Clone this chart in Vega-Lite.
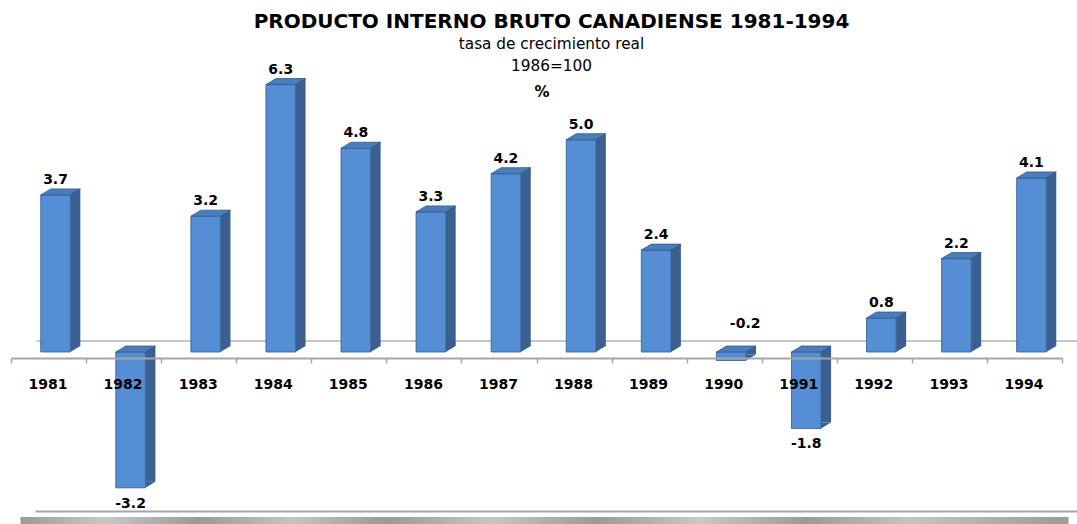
{
  "$schema": "https://vega.github.io/schema/vega-lite/v6.json",
  "width": 1051,
  "height": 358,
  "autosize": {"type": "none"},
  "padding": {"left": 11, "right": 15, "top": 0, "bottom": 166},
  "background": "white",
  "title": {
    "text": "PRODUCTO INTERNO BRUTO CANADIENSE 1981-1994",
    "subtitle": ["tasa de crecimiento real", "1986=100"],
    "font": "DejaVu Sans",
    "fontSize": 20,
    "fontWeight": "bold",
    "color": "#000000",
    "subtitleFont": "DejaVu Sans",
    "subtitleFontSize": 15.3,
    "subtitleColor": "#000000",
    "subtitleLineHeight": 22,
    "subtitlePadding": 5,
    "anchor": "middle",
    "frame": "group",
    "offset": -74,
    "dx": 15
  },
  "data": {
    "values": [
      {"year": "1981", "value": 3.7},
      {"year": "1982", "value": -3.2},
      {"year": "1983", "value": 3.2},
      {"year": "1984", "value": 6.3},
      {"year": "1985", "value": 4.8},
      {"year": "1986", "value": 3.3},
      {"year": "1987", "value": 4.2},
      {"year": "1988", "value": 5.0},
      {"year": "1989", "value": 2.4},
      {"year": "1990", "value": -0.2},
      {"year": "1991", "value": -1.8},
      {"year": "1992", "value": 0.8},
      {"year": "1993", "value": 2.2},
      {"year": "1994", "value": 4.1}
    ]
  },
  "layer": [
    {
      "data": {"values": [{"floor": "front"}]},
      "mark": {
        "type": "rect",
        "xOffset": -28,
        "x2Offset": 44,
        "fill": {
          "gradient": "linear",
          "x1": 0, "y1": 0, "x2": 1, "y2": 0,
          "stops": [
            {"offset": 0, "color": "#9A9A9A"},
            {"offset": 0.08, "color": "#C8C8C8"},
            {"offset": 0.17, "color": "#9A9A9A"},
            {"offset": 0.26, "color": "#C4C4C4"},
            {"offset": 0.35, "color": "#999999"},
            {"offset": 0.45, "color": "#C6C6C6"},
            {"offset": 0.55, "color": "#9A9A9A"},
            {"offset": 0.65, "color": "#C8C8C8"},
            {"offset": 0.75, "color": "#9A9A9A"},
            {"offset": 0.85, "color": "#C4C4C4"},
            {"offset": 1, "color": "#9A9A9A"}
          ]
        }
      },
      "encoding": {
        "x": {"datum": "1981", "type": "ordinal"},
        "x2": {"datum": "1994"},
        "y": {"datum": -3.887, "type": "quantitative", "scale": {"domain": [-0.14134, 8.29211], "nice": false, "zero": false}, "axis": null},
        "y2": {"datum": -4.3}
      }
    },
    {
      "data": {"values": [{"floor": "top"}]},
      "mark": {"type": "rule", "xOffset": -13, "x2Offset": 53, "stroke": "#A6A6A6", "strokeWidth": 2},
      "encoding": {
        "x": {"datum": "1981", "type": "ordinal"},
        "x2": {"datum": "1994"},
        "y": {"datum": -3.757, "type": "quantitative"}
      }
    },
    {
      "data": {"values": [{"wall": "back"}]},
      "mark": {"type": "rule", "yOffset": -11, "xOffset": -12, "x2Offset": 53, "stroke": "#B3B3B3", "strokeWidth": 1.5},
      "encoding": {
        "x": {"datum": "1981", "type": "ordinal"},
        "x2": {"datum": "1994"},
        "y": {"datum": 0, "type": "quantitative"}
      }
    },
    {
      "mark": {"type": "bar", "width": 10, "xOffset": 26.8, "yOffset": -6, "y2Offset": -6, "fill": "#3B5F90"},
      "encoding": {
        "x": {"field": "year", "type": "ordinal"},
        "y": {"field": "value", "type": "quantitative"},
        "y2": {"datum": 0}
      }
    },
    {
      "transform": [{"filter": "datum.value >= 0"}],
      "mark": {"type": "point", "shape": "M0.74,-0.3L1.24,-0.3L0.74,0Z", "size": 1600, "filled": true, "fill": "#3B5F90", "opacity": 1, "xOffset": 7},
      "encoding": {
        "x": {"field": "year", "type": "ordinal"},
        "y": {"datum": 0, "type": "quantitative"}
      }
    },
    {
      "transform": [{"filter": "datum.value < 0"}],
      "mark": {"type": "point", "shape": "M0.74,-0.3L1.24,-0.3L0.74,0Z", "size": 1600, "filled": true, "fill": "#3B5F90", "opacity": 1, "xOffset": 7},
      "encoding": {
        "x": {"field": "year", "type": "ordinal"},
        "y": {"field": "value", "type": "quantitative"}
      }
    },
    {
      "mark": {"type": "bar", "width": 29.6, "xOffset": 7, "fill": "#558ED5", "stroke": "#2F5A8E", "strokeWidth": 0.8},
      "encoding": {
        "x": {
          "field": "year",
          "type": "ordinal",
          "scale": {"paddingInner": 0, "paddingOuter": 0},
          "axis": {
            "title": null,
            "labelAngle": 0,
            "labelAlign": "center",
            "labelOffset": -1,
            "labelFont": "DejaVu Sans",
            "labelFontSize": 14,
            "labelFontWeight": "bold",
            "labelColor": "#000000",
            "labelPadding": 21,
            "domainColor": "#A6A6A6",
            "domainWidth": 2,
            "tickColor": "#A6A6A6",
            "tickWidth": 1.5,
            "tickSize": 5,
            "tickBand": "extent"
          }
        },
        "y": {"field": "value", "type": "quantitative"},
        "y2": {"datum": 0}
      }
    },
    {
      "transform": [{"filter": "datum.value >= 0"}],
      "mark": {"type": "point", "shape": "M-0.74,0L0.74,0L1.24,-0.3L-0.24,-0.3Z", "size": 1600, "filled": true, "fill": "#4A7EBB", "stroke": "#2F5A8E", "strokeWidth": 0.8, "opacity": 1, "xOffset": 7},
      "encoding": {
        "x": {"field": "year", "type": "ordinal"},
        "y": {"field": "value", "type": "quantitative"}
      }
    },
    {
      "transform": [{"filter": "datum.value < 0"}],
      "mark": {"type": "point", "shape": "M-0.74,0L0.74,0L1.24,-0.3L-0.24,-0.3Z", "size": 1600, "filled": true, "fill": "#4A7EBB", "stroke": "#2F5A8E", "strokeWidth": 0.8, "opacity": 1, "xOffset": 7},
      "encoding": {
        "x": {"field": "year", "type": "ordinal"},
        "y": {"datum": 0, "type": "quantitative"}
      }
    },
    {
      "transform": [{"filter": "datum.value >= 0"}],
      "mark": {"type": "text", "font": "DejaVu Sans", "fontSize": 14, "fontWeight": "bold", "fill": "#000000", "baseline": "alphabetic", "dy": -11, "xOffset": 7},
      "encoding": {
        "x": {"field": "year", "type": "ordinal"},
        "y": {"field": "value", "type": "quantitative"},
        "text": {"field": "value", "type": "quantitative", "format": ".1f"}
      }
    },
    {
      "transform": [{"filter": "datum.value < 0 && datum.value > -0.5"}],
      "mark": {"type": "text", "font": "DejaVu Sans", "fontSize": 14, "fontWeight": "bold", "fill": "#000000", "baseline": "alphabetic", "dy": -24, "dx": 14, "xOffset": 7},
      "encoding": {
        "x": {"field": "year", "type": "ordinal"},
        "y": {"datum": 0, "type": "quantitative"},
        "text": {"field": "value", "type": "quantitative", "format": ".1f"}
      }
    },
    {
      "transform": [{"filter": "datum.value <= -0.5"}],
      "mark": {"type": "text", "font": "DejaVu Sans", "fontSize": 14, "fontWeight": "bold", "fill": "#000000", "baseline": "top", "dy": 9, "xOffset": 7},
      "encoding": {
        "x": {"field": "year", "type": "ordinal"},
        "y": {"field": "value", "type": "quantitative"},
        "text": {"field": "value", "type": "quantitative", "format": ".1f"}
      }
    },
    {
      "data": {"values": [{"unit": "%"}]},
      "mark": {"type": "text", "font": "DejaVu Sans", "fontSize": 15, "fontWeight": "bold", "fill": "#000000", "baseline": "alphabetic", "dx": -32},
      "encoding": {
        "x": {"datum": "1988", "type": "ordinal"},
        "y": {"datum": 6.0, "type": "quantitative"},
        "text": {"field": "unit"}
      }
    }
  ],
  "config": {
    "view": {"stroke": null},
    "locale": {
      "number": {"decimal": ".", "thousands": ",", "grouping": [3], "currency": ["$", ""], "minus": "-"}
    }
  }
}
